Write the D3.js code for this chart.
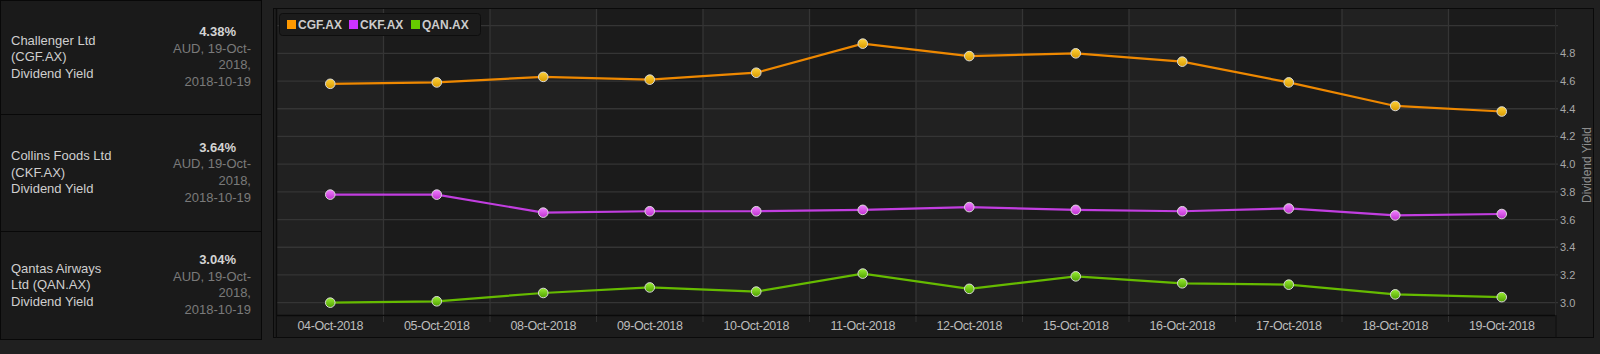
<!DOCTYPE html>
<html>
<head>
<meta charset="utf-8">
<script src="https://cdn.jsdelivr.net/npm/d3@7"></script>
<style>
  body { margin: 0; background: #202020; overflow: hidden; }
  svg { display: block; font-family: "Liberation Sans", Arial, sans-serif; }
</style>
</head>
<body>
<div id="chart"></div>
<script>
// data
const dates = ["04-Oct-2018", "05-Oct-2018", "08-Oct-2018", "09-Oct-2018", "10-Oct-2018", "11-Oct-2018",
  "12-Oct-2018", "15-Oct-2018", "16-Oct-2018", "17-Oct-2018", "18-Oct-2018", "19-Oct-2018"]
const cgf = [4.58, 4.59, 4.63, 4.61, 4.66, 4.87, 4.78, 4.80, 4.74, 4.59, 4.42, 4.38]
const ckf = [3.78, 3.78, 3.65, 3.66, 3.66, 3.67, 3.69, 3.67, 3.66, 3.68, 3.63, 3.64]
const qan = [3.00, 3.01, 3.07, 3.11, 3.08, 3.21, 3.10, 3.19, 3.14, 3.13, 3.06, 3.04]
const yTicks = [3.0, 3.2, 3.4, 3.6, 3.8, 4.0, 4.2, 4.4, 4.6, 4.8]
const yGrid = [3.0, 3.2, 3.4, 3.6, 3.8, 4.0, 4.2, 4.4, 4.6, 4.8, 5.0]

const seriesNames = ["CGF.AX", "CKF.AX", "QAN.AX"]
const legendColors = ["#ff9900", "#cc33ff", "#66cc00"]
const lineColors = ["#ee8800", "#c23ee0", "#66bb00"]
const dotTop = ["#ffd23a", "#f080ff", "#99ee33"]
const dotBottom = ["#d99a00", "#c030d0", "#4fa000"]

const panelNames = [
  ["Challenger Ltd", "(CGF.AX)", "Dividend Yield"],
  ["Collins Foods Ltd", "(CKF.AX)", "Dividend Yield"],
  ["Qantas Airways", "Ltd (QAN.AX)", "Dividend Yield"]
]
const panelValues = ["4.38%", "3.64%", "3.04%"]
const panelSub = ["AUD, 19-Oct-", "2018,", "2018-10-19"]

const W = 1600, H = 354

const svg = d3.select("#chart").append("svg")
  .attr("width", W)
  .attr("height", H)

// gradients for the markers
const defs = svg.append("defs")
seriesNames.forEach((s, i) => {
  const g = defs.append("linearGradient")
    .attr("id", "dot" + i)
    .attr("x1", 0).attr("y1", 0).attr("x2", 0).attr("y2", 1)
  g.append("stop").attr("offset", "0%").attr("stop-color", dotTop[i])
  g.append("stop").attr("offset", "100%").attr("stop-color", dotBottom[i])
})

// ---- left info panel ----
const rowTops = [0, 114, 231, 339]
const left = svg.append("g")
panelNames.forEach((lines, i) => {
  const y0 = rowTops[i], y1 = rowTops[i + 1]
  left.append("rect")
    .attr("x", 0.5).attr("y", y0 + 0.5)
    .attr("width", 261).attr("height", y1 - y0)
    .attr("fill", "#1a1a1a")
    .attr("stroke", "#080808")

  const mid = (y0 + y1) / 2
  lines.forEach((t, j) => {
    left.append("text")
      .attr("x", 11)
      .attr("y", mid - 17 + j * 16.7 + 4.5)
      .attr("fill", "#cfcfcf")
      .attr("font-size", 13)
      .text(t)
  })
  left.append("text")
    .attr("x", 236).attr("y", mid - 25.5 + 4.5)
    .attr("text-anchor", "end")
    .attr("fill", "#d4d4d4")
    .attr("font-size", 13)
    .attr("font-weight", "bold")
    .text(panelValues[i])
  panelSub.forEach((t, j) => {
    left.append("text")
      .attr("x", 251).attr("y", mid - 8.8 + j * 16.7 + 4.5)
      .attr("text-anchor", "end")
      .attr("fill", "#7a7a7a")
      .attr("font-size", 13)
      .text(t)
  })
})

// ---- chart frame ----
const frame = { x: 273, y: 8, w: 1321, h: 330 }
svg.append("rect")
  .attr("x", frame.x + 0.5).attr("y", frame.y + 0.5)
  .attr("width", frame.w - 1).attr("height", frame.h - 1)
  .attr("fill", "#1e1e1e")
  .attr("stroke", "#0a0a0a")

const plot = { left: 277, right: 1555, top: 9, bottom: 315 }

const x = d3.scaleBand()
  .domain(dates)
  .range([plot.left, plot.right])

const y = d3.scaleLinear()
  .domain([2.911, 5.12])
  .range([plot.bottom, plot.top])

const g = svg.append("g")

// alternating column bands
g.selectAll("rect.band")
  .data(dates)
  .join("rect")
  .attr("class", "band")
  .attr("x", d => x(d))
  .attr("y", plot.top)
  .attr("width", x.bandwidth())
  .attr("height", plot.bottom - plot.top)
  .attr("fill", (d, i) => i % 2 ? "#1b1b1b" : "#212121")

// horizontal grid
g.selectAll("line.hgrid")
  .data(yGrid)
  .join("line")
  .attr("x1", plot.left).attr("x2", plot.right + 3)
  .attr("y1", d => y(d)).attr("y2", d => y(d))
  .attr("stroke", "#353535")
  .attr("stroke-width", 1.3)

// vertical grid at band edges
g.selectAll("line.vgrid")
  .data(dates.slice(1))
  .join("line")
  .attr("x1", d => x(d)).attr("x2", d => x(d))
  .attr("y1", plot.top).attr("y2", plot.bottom)
  .attr("stroke", "#353535")
  .attr("stroke-width", 1.3)

// plot left edge
g.append("line")
  .attr("x1", plot.left - 0.5).attr("x2", plot.left - 0.5)
  .attr("y1", plot.top).attr("y2", frame.y + frame.h)
  .attr("stroke", "#0c0c0c").attr("stroke-width", 1.5)

// x axis area
g.append("rect")
  .attr("x", plot.left).attr("y", plot.bottom)
  .attr("width", plot.right - plot.left).attr("height", frame.y + frame.h - plot.bottom - 1)
  .attr("fill", "#1c1c1c")
g.append("line")
  .attr("x1", plot.left).attr("x2", plot.right)
  .attr("y1", plot.bottom + 0.5).attr("y2", plot.bottom + 0.5)
  .attr("stroke", "#0a0a0a").attr("stroke-width", 1.5)
g.append("line")
  .attr("x1", plot.right + 1).attr("x2", plot.right + 1)
  .attr("y1", plot.bottom).attr("y2", frame.y + frame.h)
  .attr("stroke", "#0c0c0c").attr("stroke-width", 1)
g.append("line")
  .attr("x1", plot.right + 0.5).attr("x2", plot.right + 0.5)
  .attr("y1", plot.top).attr("y2", plot.bottom)
  .attr("stroke", "#2a2a2a").attr("stroke-width", 1)

const xAxis = g.append("g")
  .attr("transform", `translate(0,${plot.bottom + 1})`)
  .call(d3.axisBottom(x).tickSize(0).tickPadding(5))
xAxis.select(".domain").remove()
xAxis.selectAll("text")
  .style("fill", "#bdbdbd")
  .style("font-size", "12.5px")
  .style("letter-spacing", "-0.35px")
  .style("font-family", "Liberation Sans, Arial, sans-serif")
// small ticks at the band edges
xAxis.selectAll("line.edge")
  .data(dates.slice(1))
  .join("line")
  .attr("class", "edge")
  .attr("x1", d => x(d)).attr("x2", d => x(d))
  .attr("y1", 0).attr("y2", 6)
  .attr("stroke", "#333")

// right y axis
const yAxis = g.append("g")
  .attr("transform", `translate(${plot.right + 3},0)`)
  .call(d3.axisRight(y).tickValues(yTicks).tickFormat(d3.format(".1f")).tickSize(0).tickPadding(2))
yAxis.select(".domain").remove()
yAxis.selectAll("text")
  .attr("fill", "#a8a8a8")
  .attr("font-size", 11)
  .attr("font-family", "Liberation Sans, Arial, sans-serif")

svg.append("text")
  .attr("transform", `translate(1591,165) rotate(-90)`)
  .attr("text-anchor", "middle")
  .attr("fill", "#8e8e8e")
  .attr("font-size", 12)
  .text("Dividend Yield")

// ---- series ----
const allSeries = [cgf, ckf, qan]
const line = d3.line()
  .x((d, i) => x(dates[i]) + x.bandwidth() / 2)
  .y(d => y(d))

allSeries.forEach((vals, i) => {
  g.append("path")
    .datum(vals)
    .attr("d", line)
    .attr("fill", "none")
    .attr("stroke", lineColors[i])
    .attr("stroke-width", 2.2)
})
allSeries.forEach((vals, i) => {
  g.selectAll("circle.s" + i)
    .data(vals)
    .join("circle")
    .attr("class", "s" + i)
    .attr("cx", (d, j) => x(dates[j]) + x.bandwidth() / 2)
    .attr("cy", d => y(d))
    .attr("r", 4.8)
    .attr("fill", `url(#dot${i})`)
    .attr("stroke", "#d8d8d8")
    .attr("stroke-width", 1)
})

// ---- legend ----
const legend = svg.append("g")
legend.append("rect")
  .attr("x", 279.5).attr("y", 13.5)
  .attr("width", 201).attr("height", 22)
  .attr("rx", 3)
  .attr("fill", "#1b1b1b")
  .attr("stroke", "#0e0e0e")
const legendX = [287, 349, 411]
seriesNames.forEach((s, i) => {
  legend.append("rect")
    .attr("x", legendX[i]).attr("y", 20)
    .attr("width", 9).attr("height", 9)
    .attr("fill", legendColors[i])
  legend.append("text")
    .attr("x", legendX[i] + 11).attr("y", 29)
    .attr("fill", "#cccccc")
    .attr("font-size", 12)
    .attr("font-weight", "bold")
    .text(s)
})
</script>
</body>
</html>
